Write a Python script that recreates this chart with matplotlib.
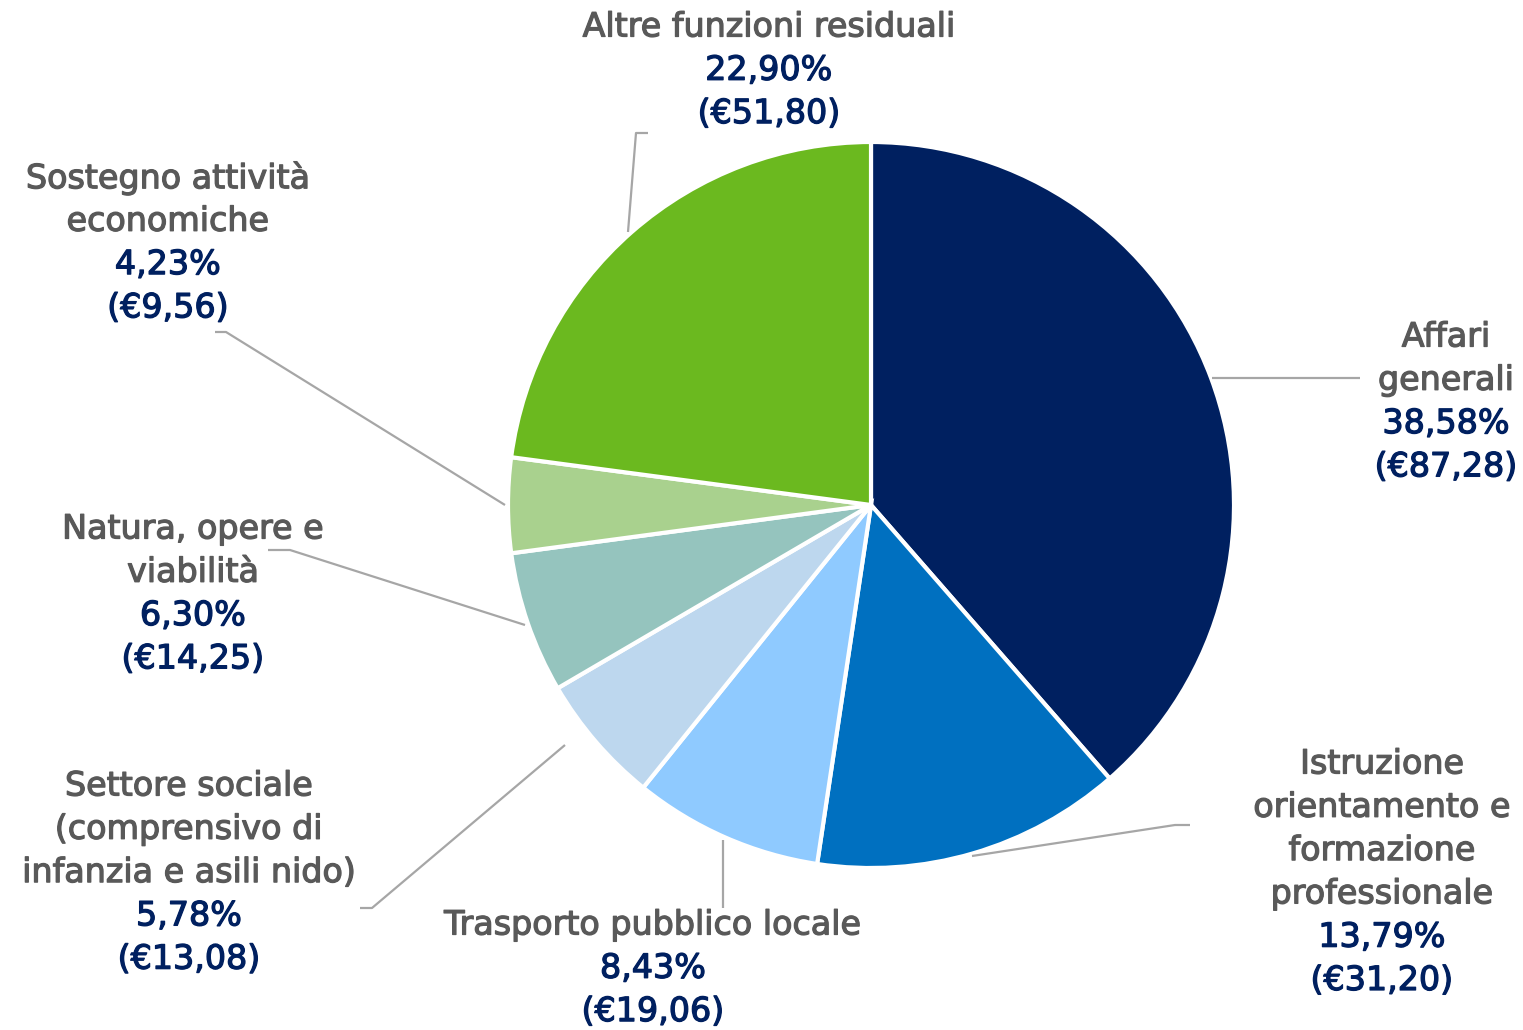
import matplotlib.pyplot as plt
import matplotlib.patheffects as pe

# values in euro, order clockwise from 12 o'clock
categories = ["Affari generali", "Istruzione orientamento e formazione professionale",
              "Trasporto pubblico locale", "Settore sociale", "Natura, opere e viabilità",
              "Sostegno attività economiche", "Altre funzioni residuali"]
values = [87.28, 31.20, 19.06, 13.08, 14.25, 9.56, 51.80]
percents = [38.58, 13.79, 8.43, 5.78, 6.30, 4.23, 22.90]
name_lines = [
    ["Affari", "generali"],
    ["Istruzione", "orientamento e", "formazione", "professionale"],
    ["Trasporto pubblico locale"],
    ["Settore sociale", "(comprensivo di", "infanzia e asili nido)"],
    ["Natura, opere e", "viabilità"],
    ["Sostegno attività", "economiche"],
    ["Altre funzioni residuali"],
]
colors = ["#002060", "#0070C0", "#8FCAFF", "#BDD7EE", "#95C4BE", "#A9D18E", "#6BB91F"]

W, H = 1523, 1030
fig = plt.figure(figsize=(W / 100, H / 100), dpi=100)
ax = fig.add_axes([0, 0, 1, 1])

def Y(py):
    return H - py

ax.pie(values, colors=colors, startangle=90, counterclock=False,
       center=(871, Y(505)), radius=363,
       wedgeprops=dict(edgecolor="white", linewidth=3))
ax.set_xlim(0, W)
ax.set_ylim(0, H)
ax.set_aspect("equal")
ax.axis("off")

# leader lines (pixel coords)
leaders = [
    [(1212, 378), (1360, 378)],
    [(972, 856), (1175, 825), (1190, 825)],
    [(723, 840), (723, 908)],
    [(565, 745), (372, 908), (360, 908)],
    [(525, 625), (290, 550), (268, 550)],
    [(505, 505), (226, 332), (215, 332)],
    [(628, 232), (636, 133), (648, 133)],
]
for pts in leaders:
    ax.plot([p[0] for p in pts], [Y(p[1]) for p in pts], color="#A6A6A6", lw=1.6,
            solid_capstyle="butt")

# label block anchors: center x, first line center y
anchors = [(1446, 337), (1382, 764), (653, 925), (189, 786), (193, 529), (168, 178), (769, 27)]
step = 43.3
font = "DejaVu Sans"
for i in range(len(values)):
    cx, y0 = anchors[i]
    lines = [(t, "#595959") for t in name_lines[i]]
    lines.append((f"{percents[i]:.2f}%".replace(".", ","), "#002060"))
    lines.append((f"(€{values[i]:.2f})".replace(".", ","), "#002060"))
    for k, (t, c) in enumerate(lines):
        ax.text(cx, Y(y0 + k * step), t, ha="center", va="center", color=c,
                fontsize=24, family=font,
                path_effects=[pe.withStroke(linewidth=0.9, foreground=c)])

fig.savefig("out.png", dpi=100)
